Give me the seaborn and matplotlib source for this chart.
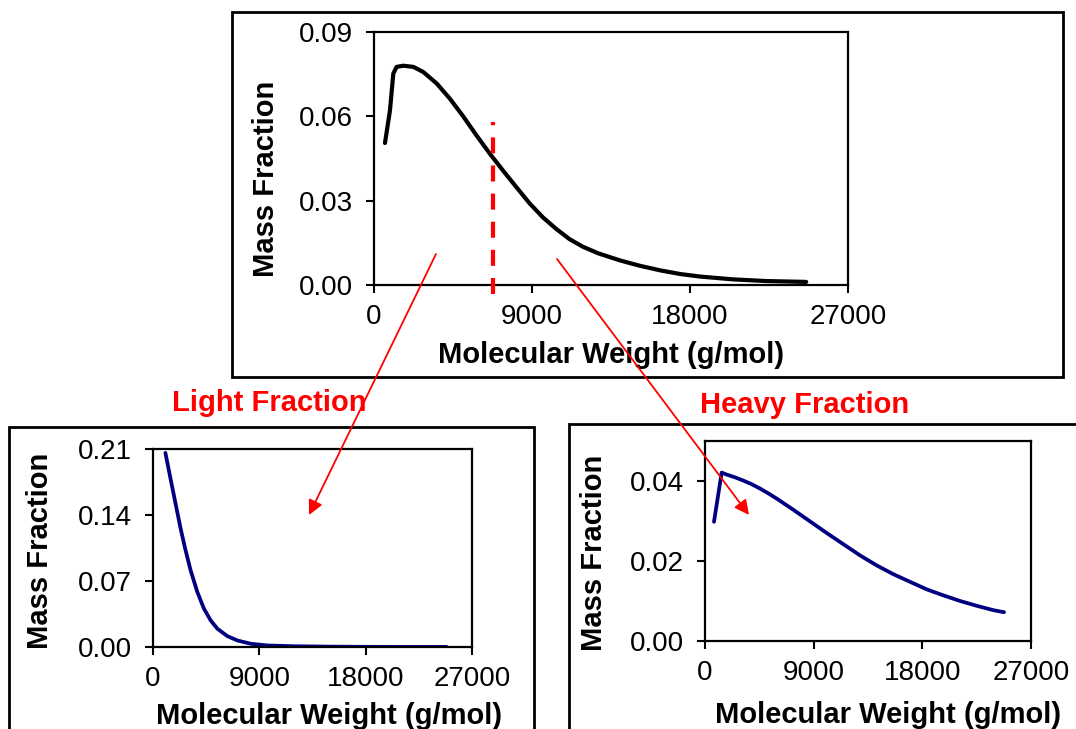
import numpy as np
import pandas as pd
import matplotlib
matplotlib.use("Agg")
import matplotlib.pyplot as plt
import seaborn as sns
from matplotlib.patches import Rectangle, FancyArrowPatch

# ---------------- data ----------------
top_mw = [625, 910, 1100, 1290, 1670, 2240, 2800, 3570, 4320, 5080, 5840, 6600, 7350,
          8110, 8870, 9630, 10390, 11140, 11900, 12800, 14040, 15170, 16310, 17450,
          18580, 20460, 22370, 24620]
top_mf = [0.0505, 0.0621, 0.0752, 0.0776, 0.0780, 0.0776, 0.0758, 0.0717, 0.0663, 0.0600,
          0.0532, 0.0467, 0.0407, 0.0348, 0.0290, 0.0240, 0.0199, 0.0163, 0.0136, 0.0112,
          0.0087, 0.0068, 0.0052, 0.0039, 0.0030, 0.0020, 0.0014, 0.0011]

light_mw = [1050, 1470, 1900, 2330, 2750, 3180, 3750, 4310, 4880, 5450, 6300, 7150, 8290,
            9710, 12000, 15000, 18000, 21000, 24850]
light_mf = [0.2059, 0.1793, 0.1527, 0.1260, 0.1029, 0.0815, 0.0584, 0.0407, 0.0282, 0.0194,
            0.0115, 0.0069, 0.0034, 0.0016, 0.0008, 0.0004, 0.0002, 0.0001, 0.0001]

heavy_mw = [745, 1380, 1800, 2500, 3180, 3870, 4560, 5250, 5940, 7320, 8700, 10080, 11460,
            12840, 14220, 15600, 16980, 18370, 19750, 21130, 22510, 23890, 24770]
heavy_mf = [0.0298, 0.0421, 0.0416, 0.0409, 0.0401, 0.0392, 0.0381, 0.0369, 0.0356, 0.0328,
            0.0299, 0.0270, 0.0242, 0.0214, 0.0189, 0.0167, 0.0148, 0.0129, 0.0114, 0.0100,
            0.0088, 0.0077, 0.0072]

cut_mw = 6800
cut_span = [-0.0032, 0.0581]

x_ticks = [0, 9000, 18000, 27000]
top_yticks = [0.00, 0.03, 0.06, 0.09]
light_yticks = [0.00, 0.07, 0.14, 0.21]
heavy_yticks = [0.00, 0.02, 0.04]

xlabel = "Molecular Weight (g/mol)"
ylabel = "Mass Fraction"
light_title = "Light Fraction"
heavy_title = "Heavy Fraction"

# ---------------- style ----------------
sns.set_theme(style="white")
plt.rcParams['font.family'] = ['Liberation Sans', 'DejaVu Sans']

W, H = 1076, 729
fig = plt.figure(figsize=(W / 100, H / 100), dpi=100)
fig.patch.set_facecolor("white")

TICK_FS = 20
LABEL_FS = 21


def px_axes(x0, y0, x1, y1):
    return fig.add_axes([x0 / W, 1 - y1 / H, (x1 - x0) / W, (y1 - y0) / H])


def style_axes(ax, yticks, ymax, xl_pos, yl_pos):
    ax.set_xlim(0, 27000)
    ax.set_ylim(0, ymax)
    ax.set_xticks(x_ticks)
    ax.set_xticklabels([str(t) for t in x_ticks])
    ax.set_yticks(yticks)
    ax.set_yticklabels(["{:.2f}".format(t) for t in yticks])
    for s in ax.spines.values():
        s.set_visible(True)
        s.set_color("black")
        s.set_linewidth(1.6)
    ax.tick_params(axis="both", which="major", direction="out", length=6, width=1.5,
                   color="black", labelsize=TICK_FS, labelcolor="black",
                   bottom=True, left=True)
    ax.tick_params(axis="x", pad=8)
    ax.tick_params(axis="y", pad=9)
    ax.set_xlabel(xlabel, fontsize=LABEL_FS, fontweight="bold", color="black")
    ax.set_ylabel(ylabel, fontsize=LABEL_FS, fontweight="bold", color="black")
    ax.xaxis.set_label_coords(*xl_pos)
    ax.yaxis.set_label_coords(*yl_pos)
    ax.xaxis.label.set_verticalalignment("center")
    ax.yaxis.label.set_verticalalignment("center")
    ax.grid(False)
    ax.set_facecolor("white")


# ---------------- panel boxes ----------------
for (x0, y0, x1, y1) in [(232, 12, 1063, 377), (9, 427, 534, 760), (569, 424, 1100, 760)]:
    fig.add_artist(Rectangle((x0 / W, 1 - y1 / H), (x1 - x0) / W, (y1 - y0) / H,
                             transform=fig.transFigure, fill=False, edgecolor="black",
                             linewidth=2.0, zorder=1))

# ---------------- top panel ----------------
ax_top = px_axes(374, 32, 848, 285)
sns.lineplot(x=top_mw, y=top_mf, ax=ax_top, color="black", linewidth=3, sort=False)
ax_top.plot([cut_mw, cut_mw], cut_span, color="#ff0000", linewidth=3,
            dashes=(3.85, 2.9), clip_on=False, zorder=5)
style_axes(ax_top, top_yticks, 0.09, (0.5, -0.275), (-0.228, 0.42))

# ---------------- light panel ----------------
ax_light = px_axes(153, 449, 472, 647)
sns.lineplot(x=light_mw, y=light_mf, ax=ax_light, color="#000080", linewidth=2.7, sort=False)
style_axes(ax_light, light_yticks, 0.21, (0.552, -0.35), (-0.355, 0.485))

# ---------------- heavy panel ----------------
ax_heavy = px_axes(705, 441, 1031, 641)
sns.lineplot(x=heavy_mw, y=heavy_mf, ax=ax_heavy, color="#000080", linewidth=2.7, sort=False)
style_axes(ax_heavy, heavy_yticks, 0.05, (0.561, -0.37), (-0.34, 0.442))

# ---------------- annotations ----------------
fig.text(269 / W, 1 - 403 / H, light_title, color="#ff0000", fontsize=21,
         fontweight="bold", ha="center", va="center")
fig.text(805 / W, 1 - 405 / H, heavy_title, color="#ff0000", fontsize=21,
         fontweight="bold", ha="center", va="center")

for (sx, sy, ex, ey) in [(436, 254, 309, 515), (557, 259, 749, 515)]:
    arr = FancyArrowPatch((sx / W, 1 - sy / H), (ex / W, 1 - ey / H),
                          transform=fig.transFigure, arrowstyle="-|>",
                          mutation_scale=22, color="#ff0000", linewidth=1.3,
                          shrinkA=0, shrinkB=0, zorder=10)
    fig.add_artist(arr)

fig.savefig("out.png", dpi=100, facecolor="white")
